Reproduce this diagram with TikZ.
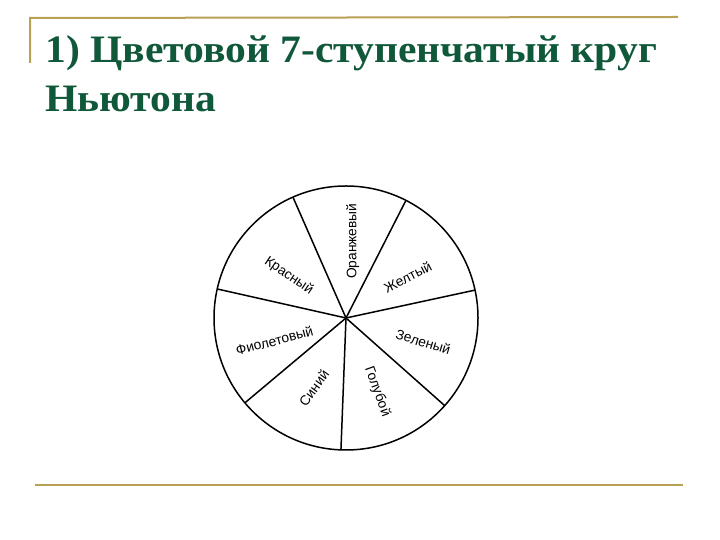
\documentclass[tikz,border=0pt]{standalone}
\usepackage{fontspec}
\setmainfont{Liberation Serif}
\newfontfamily\labelfont{Liberation Sans}
\usepackage{xcolor}
\usetikzlibrary{positioning, calc}

\definecolor{titlegreen}{RGB}{16,88,58}
\definecolor{rulegold}{RGB}{184,160,84}

\begin{document}
\begin{tikzpicture}[x=1bp, y=1bp,
    rule/.style={draw=rulegold, line width=2bp},
    title/.style={anchor=base west, inner sep=0pt, xscale=1.07, text=titlegreen, font=\fontsize{39}{46}\selectfont\bfseries},
    spoke/.style={draw=black, line width=1.5bp},
    colorname/.style={inner sep=0pt, text=black, font=\labelfont\fontsize{13.8}{15}\selectfont}
]
\useasboundingbox (0,0) rectangle (720,540);

% Frame lines
\coordinate (tl) at (30,522);
\coordinate (tr) at (678,523);
\coordinate (tlow) at (30,477);
\coordinate (bl) at (35,55);
\coordinate (br) at (683,55);
\draw[rule] (tlow) -- (tl) -- (tr);
\draw[rule] (bl) -- (br);

% Title
\node[title] (line1) at (45,477) {1) Цветовой 7-ступенчатый круг};
\node[title] (line2) at (45,428) {Ньютона};

% Wheel
\coordinate (c) at (346,222);
\draw[spoke] (c) circle[radius=132];
\foreach \a [count=\i] in {113.7,63,12.2,-41.6,-92.2,-140,167.3}
    \coordinate (rim\i) at ($(c)+(\a:132)$);
\foreach \i in {1,...,7}
    \draw[spoke] (c) -- (rim\i);

% Colour names
\node[colorname, rotate=90] (orange) at ($(c)+(85:77)$) {Оранжевый};
\node[colorname, rotate=27] (yellow) at ($(c)+(33.5:74)$) {Желтый};
\node[colorname, rotate=-17] (green) at ($(c)+(-17.2:81)$) {Зеленый};
\node[colorname, rotate=-70] (lightblue) at ($(c)+(-67:80)$) {Голубой};
\node[colorname, rotate=54] (blue) at ($(c)+(-114.6:77)$) {Синий};
\node[colorname, rotate=15] (violet) at ($(c)+(-162.5:75)$) {Фиолетовый};
\node[colorname, rotate=-34] (red) at ($(c)+(143.6:71)$) {Красный};

\end{tikzpicture}
\end{document}
